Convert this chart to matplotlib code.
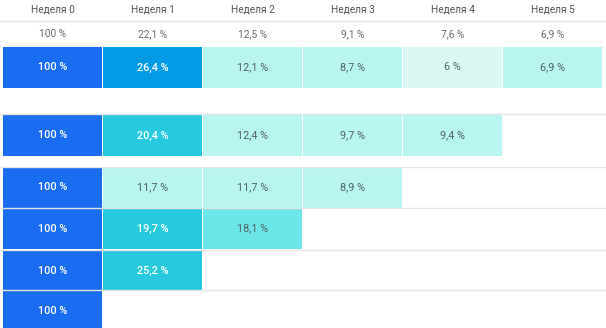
import matplotlib.pyplot as plt
from matplotlib.patches import Rectangle

plt.rcParams['font.family'] = ['Roboto', 'DejaVu Sans']

weeks = ['Неделя 0', 'Неделя 1', 'Неделя 2', 'Неделя 3', 'Неделя 4', 'Неделя 5']
average = [100, 22.1, 12.5, 9.1, 7.6, 6.9]
cohort_1 = [100, 26.4, 12.1, 8.7, 6, 6.9]
cohort_2 = [100, 20.4, 12.4, 9.7, 9.4]
cohort_3 = [100, 11.7, 11.7, 8.9]
cohort_4 = [100, 19.7, 18.1]
cohort_5 = [100, 25.2]
cohort_6 = [100]
cohorts = [cohort_1, cohort_2, cohort_3, cohort_4, cohort_5, cohort_6]

# layout in pixels
W, H = 606, 328
col_x0, col_w = 3, 100
row_tops = [47, 115, 167, 208, 250, 291]
row_h = 41
rule_ys = [21, 114, 167, 208, 250, 290]


def fmt(v):
    return f'{v:g}'.replace('.', ',') + ' %'


def cell_style(v):
    # colour bucket and text colour for a retention value
    if v >= 100:
        return '#1a6cf0', 'white', 'medium'
    if v >= 26:
        return '#039be5', 'white', 'medium'
    if v >= 19:
        return '#26c9dd', 'white', 'medium'
    if v >= 14:
        return '#6de6e9', '#4f6464', 'normal'
    if v >= 6.5:
        return '#b9f5f0', '#4f6464', 'normal'
    return '#dcf8f4', '#4f6464', 'normal'


fig = plt.figure(figsize=(W / 100, H / 100), dpi=100)
ax = fig.add_axes([0, 0, 1, 1])
ax.set_xlim(0, W)
ax.set_ylim(H, 0)
ax.axis('off')

for y in rule_ys:
    ax.plot([0, W], [y, y], color='#e3e3e3', lw=1, solid_capstyle='butt')

for j, name in enumerate(weeks):
    cx = col_x0 + j * col_w + col_w / 2 - 0.5
    ax.text(cx, 10, name, ha='center', va='center', fontsize=7.3, color='#555555')
    ax.text(cx, 34, fmt(average[j]), ha='center', va='center', fontsize=7.3, color='#6a6a6a')

for i, row in enumerate(cohorts):
    top = row_tops[i]
    for j, v in enumerate(row):
        fc, tc, fw = cell_style(v)
        x = col_x0 + j * col_w
        ax.add_patch(Rectangle((x, top), col_w - 1, row_h, facecolor=fc, edgecolor='none'))
        ax.text(x + (col_w - 1) / 2, top + row_h / 2, fmt(v), ha='center', va='center',
                fontsize=7.8, color=tc, fontweight=fw)

fig.savefig('out.png', dpi=100)
